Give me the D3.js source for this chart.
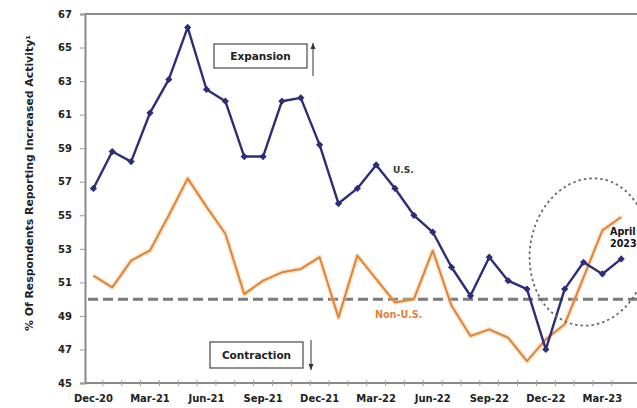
<!DOCTYPE html>
<html>
<head>
<meta charset="utf-8">
<script src="https://cdn.jsdelivr.net/npm/d3@7/dist/d3.min.js"></script>
<style>
  html, body { margin: 0; padding: 0; background: #fff; }
  svg { display: block; }
  text { font-family: "DejaVu Sans", Verdana, sans-serif; font-weight: bold; }
</style>
</head>
<body>
<svg id="chart" width="637" height="408"></svg>
<script>
// Monthly survey readings, Dec-20 .. Apr-23
const months = ["Dec-20","Jan-21","Feb-21","Mar-21","Apr-21","May-21","Jun-21","Jul-21","Aug-21","Sep-21","Oct-21","Nov-21",
                "Dec-21","Jan-22","Feb-22","Mar-22","Apr-22","May-22","Jun-22","Jul-22","Aug-22","Sep-22","Oct-22","Nov-22",
                "Dec-22","Jan-23","Feb-23","Mar-23","Apr-23"];
const usValues = [56.6, 58.8, 58.2, 61.1, 63.1, 66.2, 62.5, 61.8, 58.5, 58.5, 61.8, 62.0,
                  59.2, 55.7, 56.6, 58.0, 56.6, 55.0, 54.0, 51.9, 50.2, 52.5, 51.1, 50.6,
                  47.0, 50.6, 52.2, 51.5, 52.4];
const nonUsValues = [51.4, 50.7, 52.3, 52.9, 55.0, 57.2, 55.5, 53.9, 50.3, 51.1, 51.6, 51.8,
                     52.5, 48.9, 52.6, 51.2, 49.8, 50.0, 52.9, 49.6, 47.8, 48.2, 47.7, 46.3,
                     47.6, 48.5, 51.3, 54.1, 54.9];
const xTickLabels = ["Dec-20","Mar-21","Jun-21","Sep-21","Dec-21","Mar-22","Jun-22","Sep-22","Dec-22","Mar-23"];
const yTicks = [45, 47, 49, 51, 53, 55, 57, 59, 61, 63, 65, 67];
const neutralLevel = 50;

const svg = d3.select("#chart");
const W = 637;
const plotLeft = 85, plotTop = 14, plotBottom = 383;

const x = d3.scaleBand().domain(months).range([84, 84 + 29 * 18.85]).padding(0);
const cx = m => x(m) + x.bandwidth() / 2;
const y = d3.scaleLinear().domain([45, 67]).range([plotBottom, plotTop]);

// frame: top border and left/bottom axes
svg.append("line").attr("x1", plotLeft).attr("x2", W).attr("y1", plotTop).attr("y2", plotTop)
   .attr("stroke", "#8a8a8a").attr("stroke-width", 2);

const yAxis = d3.axisLeft(y).tickValues(yTicks).tickSize(5).tickPadding(8);
const gy = svg.append("g").attr("transform", `translate(${plotLeft},0)`).call(yAxis);
gy.select(".domain").attr("stroke", "#8a8a8a").attr("stroke-width", 2);
gy.selectAll(".tick line").attr("stroke", "#9a9a9a");
gy.selectAll(".tick text").attr("font-size", 10).attr("fill", "#222")
  .style("font-family", "'DejaVu Sans', sans-serif").style("font-weight", "bold");

// bottom axis: tick marks sit between months, labels every quarter
const xAxis = d3.axisBottom(x).tickSize(0).tickPadding(12)
  .tickFormat(d => xTickLabels.includes(d) ? d : "");
const gx = svg.append("g").attr("transform", `translate(0,${plotBottom})`).call(xAxis);
gx.select(".domain").remove();
gx.selectAll(".tick text").attr("font-size", 10).attr("fill", "#222")
  .style("font-family", "'DejaVu Sans', sans-serif").style("font-weight", "bold");
svg.append("line").attr("x1", plotLeft).attr("x2", W).attr("y1", plotBottom).attr("y2", plotBottom)
   .attr("stroke", "#8a8a8a").attr("stroke-width", 2);
svg.append("g").selectAll("line").data(months.slice(1)).join("line")
  .attr("x1", d => x(d)).attr("x2", d => x(d))
  .attr("y1", plotBottom - 3).attr("y2", plotBottom + 3)
  .attr("stroke", "#a0a0a0").attr("stroke-width", 1);

// y-axis title
svg.append("text")
  .attr("transform", `translate(33,183) rotate(-90)`)
  .attr("text-anchor", "middle").attr("font-size", 9.6).attr("fill", "#222")
  .attr("textLength", 296).attr("lengthAdjust", "spacingAndGlyphs")
  .text("% Of Respondents Reporting Increased Activity¹");

// 50 = neutral reference
svg.append("line").attr("x1", plotLeft + 3).attr("x2", W)
  .attr("y1", y(neutralLevel)).attr("y2", y(neutralLevel))
  .attr("stroke", "#7a7a7a").attr("stroke-width", 3).attr("stroke-dasharray", "10,5");

// Non-U.S. series with a soft halo
const line = d3.line().x((d, i) => cx(months[i])).y(d => y(d));
svg.append("path").datum(nonUsValues).attr("d", line)
  .attr("fill", "none").attr("stroke", "#f7c98f").attr("stroke-width", 5).attr("opacity", 0.45)
  .attr("stroke-linejoin", "round");
svg.append("path").datum(nonUsValues).attr("d", line)
  .attr("fill", "none").attr("stroke", "#e0823a").attr("stroke-width", 2)
  .attr("stroke-linejoin", "round");

// U.S. series with diamond markers
const navy = "#2c2e78";
svg.append("path").datum(usValues).attr("d", line)
  .attr("fill", "none").attr("stroke", navy).attr("stroke-width", 2.4)
  .attr("stroke-linejoin", "round");
svg.append("g").selectAll("path").data(usValues).join("path")
  .attr("d", d3.symbol(d3.symbolSquare, 26))
  .attr("transform", (d, i) => `translate(${cx(months[i])},${y(d)}) rotate(45)`)
  .attr("fill", navy);

// series labels
svg.append("text").attr("x", 393).attr("y", 173).attr("font-size", 9).attr("fill", "#333").text("U.S.");
svg.append("text").attr("x", 375).attr("y", 318).attr("font-size", 9.6).attr("fill", "#e0823a").text("Non-U.S.");

// highlight around the latest readings
svg.append("ellipse")
  .attr("transform", "translate(589,252) rotate(9)")
  .attr("rx", 59).attr("ry", 74)
  .attr("fill", "none").attr("stroke", "#6a6a6a").attr("stroke-width", 1.8)
  .attr("stroke-dasharray", "2.5,3");
svg.append("text").attr("x", 610).attr("y", 235).attr("font-size", 9.6).attr("fill", "#111").text("April");
svg.append("text").attr("x", 610).attr("y", 247).attr("font-size", 9.6).attr("fill", "#111").text("2023");

// expansion / contraction callouts
function callout(bx, by, bw, bh, label, ax, ay1, ay2) {
  svg.append("rect").attr("x", bx).attr("y", by).attr("width", bw).attr("height", bh)
    .attr("fill", "#fff").attr("stroke", "#555").attr("stroke-width", 1.3);
  svg.append("text").attr("x", bx + bw / 2).attr("y", by + bh / 2 + 3.8)
    .attr("text-anchor", "middle").attr("font-size", 10.5).attr("fill", "#222").text(label);
  svg.append("line").attr("x1", ax).attr("x2", ax).attr("y1", ay1).attr("y2", ay2)
    .attr("stroke", "#333").attr("stroke-width", 1);
  const dir = ay2 < ay1 ? -1 : 1;
  svg.append("path")
    .attr("d", `M${ax - 2.5},${ay2 - dir * 6} L${ax},${ay2} L${ax + 2.5},${ay2 - dir * 6} Z`)
    .attr("fill", "#333");
}
callout(214, 44, 93, 24, "Expansion", 313, 76, 43);
callout(210, 342, 93, 26, "Contraction", 311, 340, 370);
</script>
</body>
</html>
